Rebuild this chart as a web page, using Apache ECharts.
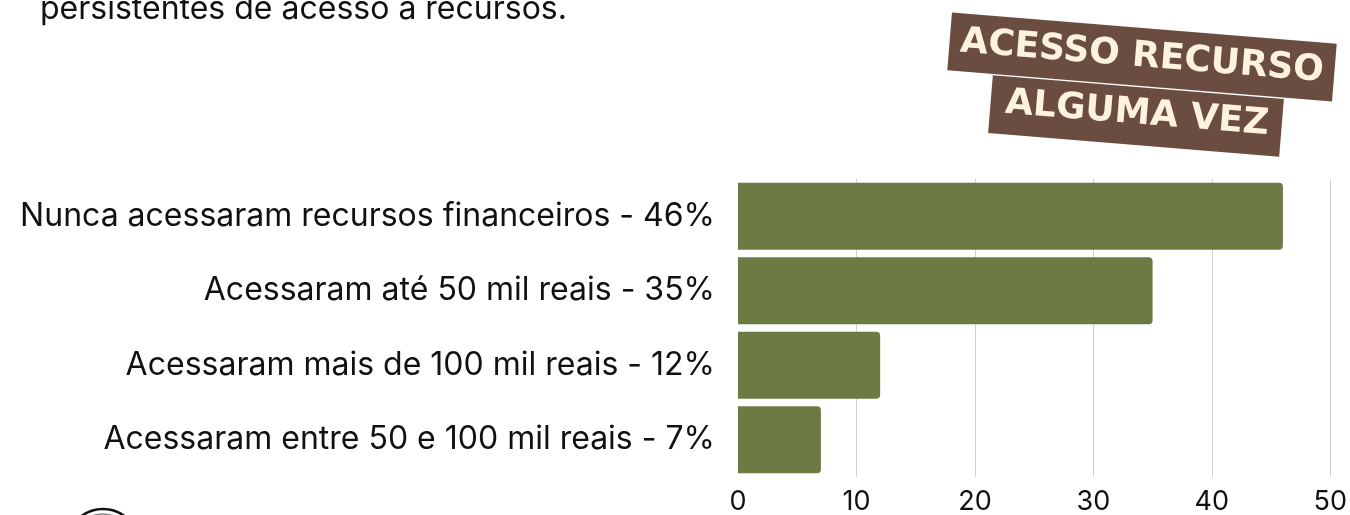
<!DOCTYPE html>
<html>
<head>
<meta charset="utf-8">
<script src="https://cdn.jsdelivr.net/npm/echarts@6/dist/echarts.min.js"></script>
<style>
  html, body { margin: 0; padding: 0; background: #fff; }
  #chart { width: 1350px; height: 515px; }
</style>
</head>
<body>
<div id="chart"></div>
<script>
// chart data
const categories = [
    'Nunca acessaram recursos financeiros - 46%',
    'Acessaram até 50 mil reais - 35%',
    'Acessaram mais de 100 mil reais - 12%',
    'Acessaram entre 50 e 100 mil reais - 7%'
];
const values = [46, 35, 12, 7];
const badgeLines = ['ACESSO RECURSO', 'ALGUMA VEZ'];
const introText = 'persistentes de acesso a recursos.';

const chart = echarts.init(document.getElementById('chart'));
const tilt = -0.081;
const font = 'Inter, "Noto Sans", sans-serif';

const option = {
    animation: false,
    grid: { left: 738, right: 19, top: 179, bottom: 36 },
    xAxis: {
        type: 'value',
        min: 0,
        max: 50,
        interval: 10,
        axisLine: { show: false },
        axisTick: { show: false },
        axisLabel: { fontSize: 27, color: '#111', margin: 11, fontFamily: font },
        splitLine: { show: true, showMinLine: false, lineStyle: { color: '#cfcfcf', width: 1 } }
    },
    yAxis: {
        type: 'category',
        inverse: true,
        data: categories,
        axisLine: { show: false },
        axisTick: { show: false },
        axisLabel: { fontSize: 32, color: '#111', margin: 23, fontFamily: font, padding: [12, 0, 0, 0] }
    },
    series: [{
        type: 'bar',
        data: values,
        barWidth: 67,
        itemStyle: { color: '#6c7b43', borderRadius: [0, 4, 4, 0] }
    }],
    graphic: [
        {
            type: 'text',
            left: 40,
            top: -7,
            style: { text: introText, fontSize: 32, fill: '#111', fontFamily: font }
        },
        {
            type: 'rect',
            x: 1142, y: 57, rotation: tilt,
            shape: { x: -193, y: -29, width: 386, height: 58 },
            style: { fill: '#6b4c40' }
        },
        {
            type: 'rect',
            x: 1136, y: 116, rotation: tilt,
            shape: { x: -146, y: -29, width: 292, height: 58 },
            style: { fill: '#6b4c40' }
        },
        {
            type: 'text',
            x: 1142, y: 57, rotation: tilt,
            style: {
                text: badgeLines[0], fill: '#fdf3dc', fontSize: 36, fontWeight: 600,
                fontFamily: '"DejaVu Sans", sans-serif', align: 'center', verticalAlign: 'middle'
            }
        },
        {
            type: 'text',
            x: 1137, y: 114, rotation: tilt,
            style: {
                text: badgeLines[1], fill: '#fdf3dc', fontSize: 36, fontWeight: 600,
                fontFamily: '"DejaVu Sans", sans-serif', align: 'center', verticalAlign: 'middle'
            }
        },
        {
            type: 'circle',
            shape: { cx: 103, cy: 545, r: 36 },
            style: { fill: 'none', stroke: '#111', lineWidth: 2.5 }
        },
        {
            type: 'circle',
            shape: { cx: 103, cy: 545, r: 31 },
            style: { fill: 'none', stroke: '#888', lineWidth: 1.5 }
        }
    ]
};

chart.setOption(option);
window.addEventListener('resize', () => chart.resize());
</script>
</body>
</html>
